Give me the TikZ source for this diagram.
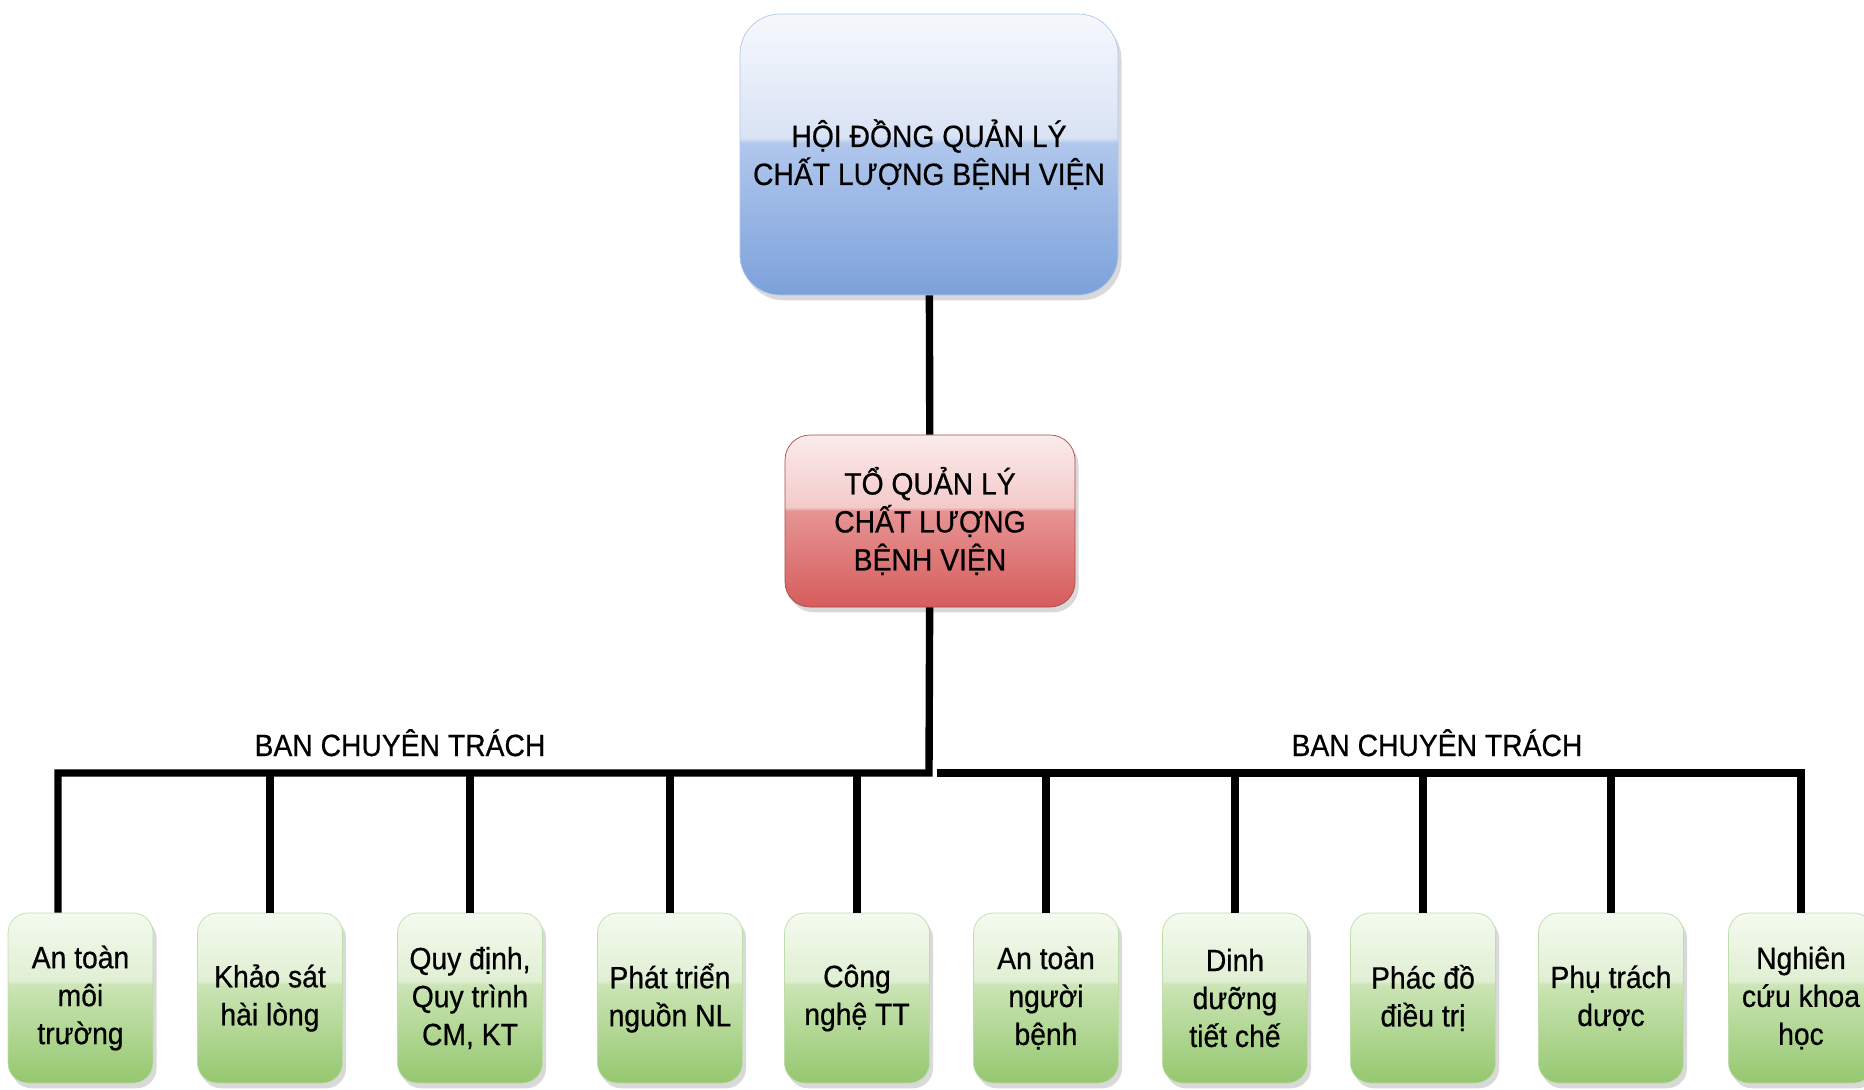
\documentclass[tikz,border=0pt]{standalone}
\usepackage{fontspec}
\setmainfont[FakeStretch=0.92,FakeBold=0.6]{Liberation Sans}
\usepackage{xcolor}
\usepackage{tikz}
\usetikzlibrary{shapes,positioning,shadows,calc}

\definecolor{blueTop}{HTML}{F6F8FD}
\definecolor{blueHi}{HTML}{D9E3F5}
\definecolor{blueLo}{HTML}{B0C7EC}
\definecolor{blueBot}{HTML}{7CA1DB}
\definecolor{redTop}{HTML}{FBEBEB}
\definecolor{redHi}{HTML}{F3CACA}
\definecolor{redLo}{HTML}{E79494}
\definecolor{redBot}{HTML}{D65C5C}
\definecolor{greenTop}{HTML}{F4FAEF}
\definecolor{greenHi}{HTML}{E0EFD3}
\definecolor{greenLo}{HTML}{CBE5B5}
\definecolor{greenBot}{HTML}{95C76F}

\pgfdeclareverticalshading{blueglass}{100bp}{color(0bp)=(blueBot); color(25bp)=(blueBot);
  color(52bp)=(blueLo); color(53bp)=(blueHi); color(75bp)=(blueTop); color(100bp)=(blueTop)}
\pgfdeclareverticalshading{redglass}{100bp}{color(0bp)=(redBot); color(25bp)=(redBot);
  color(53bp)=(redLo); color(54bp)=(redHi); color(75bp)=(redTop); color(100bp)=(redTop)}
\pgfdeclareverticalshading{greenglass}{100bp}{color(0bp)=(greenBot); color(25bp)=(greenBot);
  color(54bp)=(greenLo); color(55bp)=(greenHi); color(75bp)=(greenTop); color(100bp)=(greenTop)}

\begin{document}
\begin{tikzpicture}[
    council/.style={rectangle, rounded corners=0.8cm, draw=blueBot!60!white, shading=blueglass, minimum width=7.56cm, minimum height=5.62cm, align=center, font=\fontsize{17.5}{21.6}\selectfont, drop shadow={shadow xshift=2pt, shadow yshift=-3pt, opacity=0.3}},
    team/.style={rectangle, rounded corners=0.5cm, draw=redBot!80!black, shading=redglass, minimum width=5.8cm, minimum height=3.44cm, align=center, font=\fontsize{17.5}{21.6}\selectfont, drop shadow={shadow xshift=2pt, shadow yshift=-3pt, opacity=0.3}},
    unit/.style={rectangle, rounded corners=0.4cm, draw=greenBot!60!white, shading=greenglass, minimum width=2.9cm, minimum height=3.4cm, align=center, inner sep=1pt, font=\fontsize{17.5}{21.6}\selectfont, drop shadow={shadow xshift=2pt, shadow yshift=-3pt, opacity=0.3}},
    group/.style={anchor=base, font=\fontsize{17.5}{21.6}\selectfont},
    link/.style={line width=4.2pt, black},
]
\useasboundingbox (0,0) rectangle (37.28,-21.78);

% Council and team
\node[council] (council) at (18.58,-3.09) {HỘI ĐỒNG QUẢN LÝ\\CHẤT LƯỢNG BỆNH VIỆN};
\node[team] (team) at (18.6,-10.42) {TỔ QUẢN LÝ\\CHẤT LƯỢNG\\BỆNH VIỆN};

% Units
\node[unit] (antoanMT) at (1.61,-19.96) {An toàn\\môi\\trường};
\node[unit] (khaosat) at (5.4,-19.96) {Khảo sát\\hài lòng};
\node[unit] (quydinh) at (9.4,-19.96) {Quy định,\\Quy trình\\CM, KT};
\node[unit] (phattrien) at (13.4,-19.96) {Phát triển\\nguồn NL};
\node[unit] (congnghe) at (17.14,-19.96) {Công\\nghệ TT};
\node[unit] (antoanNB) at (20.92,-19.96) {An toàn\\người\\bệnh};
\node[unit] (dinhduong) at (24.7,-19.96) {Dinh\\dưỡng\\tiết chế};
\node[unit] (phacdo) at (28.46,-19.96) {Phác đồ\\điều trị};
\node[unit] (phutrach) at (32.22,-19.96) {Phụ trách\\dược};
\node[unit] (nghiencuu) at (36.02,-19.96) {Nghiên\\cứu khoa\\học};

% Bar
\coordinate (hub) at (18.58,-15.46);
\coordinate (hubR) at (18.74,-15.46);
\coordinate (barL) at (1.16,-15.46);
\coordinate (barR) at (36.02,-15.46);

\draw[link] (council) -- (team);
\draw[link] (team) -- (hub) -- (barL) -- (antoanMT.north -| barL);
\draw[link] (hubR) -- (barR) -- (nghiencuu.north);
\foreach \u in {khaosat, quydinh, phattrien, congnghe, antoanNB, dinhduong, phacdo, phutrach} {
    \draw[link] (\u.north |- hub) -- (\u.north);
}

% Group labels
\node[group] (banL) at (8.0,-15.12) {BAN CHUYÊN TRÁCH};
\node[group] (banR) at (28.74,-15.12) {BAN CHUYÊN TRÁCH};

\end{tikzpicture}
\end{document}
